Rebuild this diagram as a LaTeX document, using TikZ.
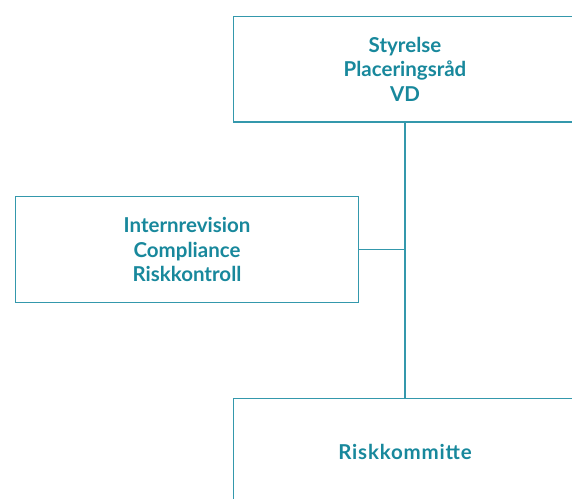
\documentclass[tikz,border=0pt]{standalone}
\usepackage{fontspec}
\setmainfont{Lato}
\usetikzlibrary{calc, positioning}
\definecolor{risk_Teal}{RGB}{24,136,156}
\definecolor{risk_Line}{RGB}{52,152,172}

\begin{document}
\begin{tikzpicture}[x=1pt, y=-1pt]
			\tikzset{unit/.style = {shape=rectangle, draw=risk_Line, line width=1.3pt, minimum width=343pt, minimum height=105.5pt, align=center, text=risk_Teal, font=\fontsize{20.5}{24.5}\selectfont\bfseries}}
			\tikzset{edge/.style = {draw=risk_Line, line width=1.1pt}}
			\useasboundingbox (0,0) rectangle (572,498);
			\clip (0,0) rectangle (572,498);

			% vertices
			\node[unit] (board) at (405,69.25) {Styrelse\\Placeringsråd\\VD};
			\node[unit] (control) at (187,249.5) {Internrevision\\Compliance\\Riskkontroll};
			\node[unit, font=\fontsize{20.5}{24.5}\selectfont\bfseries\addfontfeature{LetterSpace=4}] (committee) at (405,451.5) {Riskkommitte};

			%edges
			\draw[edge] (board) to (committee);
			\draw[edge] (control) to (control -| board);
\end{tikzpicture}
\end{document}
